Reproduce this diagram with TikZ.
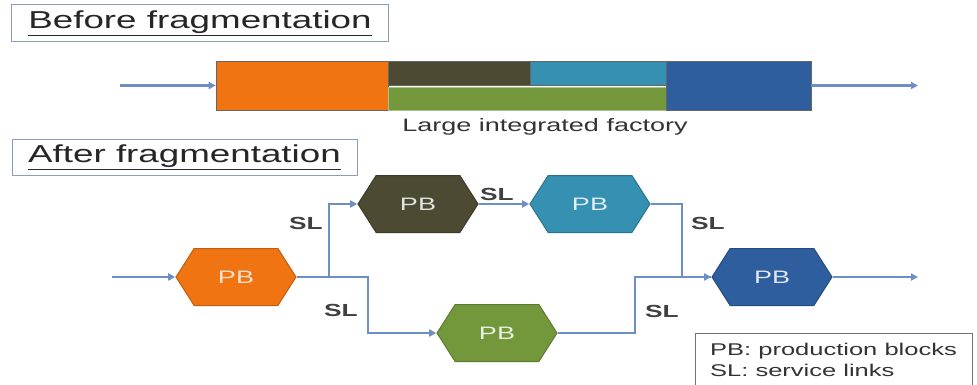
\documentclass[tikz,border=0pt]{standalone}
\usepackage{fontspec}
\setmainfont{Liberation Sans}
\usetikzlibrary{arrows.meta, shapes.symbols}
\definecolor{cOrange}{HTML}{F07512}
\definecolor{cOlive}{HTML}{4C4A32}
\definecolor{cCyan}{HTML}{3590B2}
\definecolor{cGreen}{HTML}{73983C}
\definecolor{cBlue}{HTML}{2F5E9F}
\definecolor{cLink}{HTML}{6E8FC6}
\definecolor{cFrame}{HTML}{8C9CBC}

\begin{document}
\begin{tikzpicture}[x=1pt, y=-1pt,
  title/.style={draw=cFrame, line width=1pt, xscale=1.5, inner sep=0pt,
    text=black!85, font=\fontsize{24.5}{29}\selectfont},
  block/.style={inner sep=0pt, draw=black!60, line width=0.6pt},
  hexa/.style={shape=signal, signal to=west and east, signal pointer angle=134,
    xscale=1.5, minimum width=80pt, minimum height=57pt, inner sep=0pt,
    line width=1pt, font=\fontsize{18}{20}\selectfont},
  lbl/.style={xscale=1.5, text=black!75, font=\fontsize{17.5}{20}\selectfont\bfseries},
  link/.style={draw=cLink, line width=2.6pt, -{Triangle[length=7pt,width=7pt]}},
  wire/.style={draw=cLink, line width=2.6pt}]
\useasboundingbox (0,0) rectangle (977,385);
\fill[white] (0,0) rectangle (977,385);

% before fragmentation
\node[title, minimum width=250.7pt, minimum height=37pt] (ttlA) at (200,23.5)
  {\underline{Before fragmentation}};
\node[block, fill=cOrange, minimum width=172pt, minimum height=49pt] (bOr) at (302,85.5) {};
\node[block, fill=cOlive, minimum width=142pt, minimum height=24pt] (bOl) at (459,73) {};
\node[block, fill=cCyan, minimum width=136pt, minimum height=24pt] (bCy) at (598,73) {};
\node[block, fill=cGreen, draw=cGreen!60!white, minimum width=278pt, minimum height=23pt] (bGr) at (527,98.5) {};
\node[block, fill=cBlue, minimum width=145pt, minimum height=49pt] (bBl) at (738.5,85.5) {};
\coordinate (inA) at (120,85.5);
\coordinate (outA) at (918,85.5);
\draw[link] (inA) -- (bOr.west);
\draw[link] (bBl.east) -- (outA);
\node[lbl, font=\fontsize{18}{20}\selectfont, text=black!80] (fac) at (545,127) {Large integrated factory};

% after fragmentation
\node[title, minimum width=230pt, minimum height=35pt] (ttlB) at (184.5,157.5)
  {\underline{After fragmentation}};
\node[hexa, fill=cOrange, draw=cOrange!80!black, text=cOrange!20!white] (pbA) at (236,277) {PB};
\node[hexa, fill=cOlive, draw=cOlive!80!black, text=cOlive!15!white] (pbB) at (418,204) {PB};
\node[hexa, fill=cCyan, draw=cCyan!80!black, text=cCyan!15!white] (pbC) at (590,204) {PB};
\node[hexa, fill=cGreen, draw=cGreen!80!black, text=cGreen!15!white] (pbD) at (497,333) {PB};
\node[hexa, fill=cBlue, draw=cBlue!80!black, text=cBlue!15!white] (pbE) at (772,277) {PB};
\coordinate (inB) at (112,277);
\coordinate (outB) at (918,277);

\draw[link] (inB) -- (pbA.west);
\draw[link] (pbA.east) -- ++(32,0) |- (pbB.west);
\draw[link] (pbA.east) -- ++(71,0) |- (pbD.west);
\draw[link] (pbB.east) -- (pbC.west);
\draw[wire] (pbD.east) -- ++(77,0) |- (pbE.west);
\draw[link] (pbC.east) -- ++(31,0) |- (pbE.west);
\draw[link] (pbE.east) -- (outB);

\node[lbl] (slA) at (306,223) {SL};
\node[lbl] (slB) at (341,310) {SL};
\node[lbl] (slC) at (497,194) {SL};
\node[lbl] (slD) at (708,223) {SL};
\node[lbl] (slE) at (662,311) {SL};

% legend
\node[draw=black!55, line width=0.8pt, xscale=1.5, minimum width=184.7pt, minimum height=54pt,
  inner sep=0pt, text=black!80, align=left, font=\fontsize{17}{21}\selectfont] (leg) at (833.5,360)
  {PB: production blocks\\SL: service links};
\end{tikzpicture}
\end{document}
